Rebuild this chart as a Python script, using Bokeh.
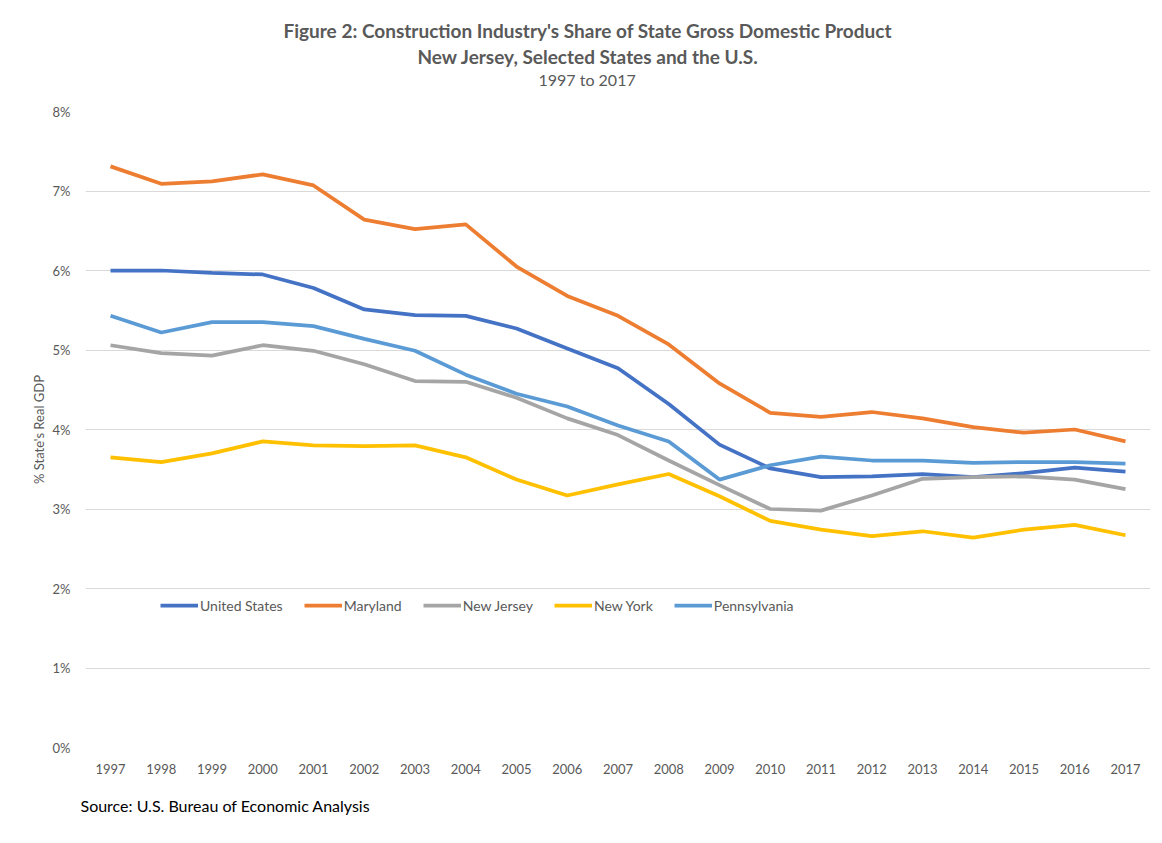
from bokeh.plotting import figure
from bokeh.models import (Range1d, FixedTicker, PrintfTickFormatter, Legend, LegendItem, Title)
from bokeh.embed import file_html
from bokeh.resources import INLINE

years = list(range(1997, 2018))
united_states = [6.00, 6.00, 5.97, 5.95, 5.78, 5.51, 5.44, 5.43, 5.27, 5.02, 4.77, 4.32, 3.81, 3.51, 3.40, 3.41, 3.44, 3.40, 3.45, 3.52, 3.47]
maryland = [7.31, 7.09, 7.12, 7.21, 7.07, 6.64, 6.52, 6.58, 6.05, 5.68, 5.43, 5.07, 4.58, 4.21, 4.16, 4.22, 4.14, 4.03, 3.96, 4.00, 3.85]
new_jersey = [5.06, 4.96, 4.93, 5.06, 4.99, 4.82, 4.61, 4.60, 4.40, 4.14, 3.93, 3.61, 3.30, 3.00, 2.98, 3.17, 3.38, 3.40, 3.41, 3.37, 3.25]
new_york = [3.65, 3.59, 3.70, 3.85, 3.80, 3.79, 3.80, 3.65, 3.37, 3.17, 3.31, 3.44, 3.16, 2.85, 2.74, 2.66, 2.72, 2.64, 2.74, 2.80, 2.67]
pennsylvania = [5.43, 5.22, 5.35, 5.35, 5.30, 5.14, 4.99, 4.69, 4.45, 4.29, 4.05, 3.85, 3.37, 3.55, 3.66, 3.61, 3.61, 3.58, 3.59, 3.59, 3.57]
y_ticks = [0, 1, 2, 3, 4, 5, 6, 7, 8]

series = [
    ("United States", united_states, "#4472C4"),
    ("Maryland", maryland, "#ED7D31"),
    ("New Jersey", new_jersey, "#A5A5A5"),
    ("New York", new_york, "#FFC000"),
    ("Pennsylvania", pennsylvania, "#5B9BD5"),
]

FONT = "Lato"
GREY = "#595959"

p = figure(width=1154, height=835, output_backend="svg", toolbar_location=None,
           x_range=Range1d(1996.507, 2017.493), y_range=Range1d(0, 8),
           min_border_left=85, min_border_right=4, min_border_top=111, min_border_bottom=88)
p.outline_line_color = None
p.xgrid.grid_line_color = None
p.ygrid.grid_line_color = "#D9D9D9"
p.ygrid.grid_line_width = 1

p.xaxis.ticker = FixedTicker(ticks=years)
p.yaxis.ticker = FixedTicker(ticks=y_ticks)
p.yaxis.formatter = PrintfTickFormatter(format="%d%%")
for ax in (p.xaxis[0], p.yaxis[0]):
    ax.axis_line_color = None
    ax.major_tick_line_color = None
    ax.minor_tick_line_color = None
    ax.major_label_text_font = FONT
    ax.major_label_text_font_size = "13px"
    ax.major_label_text_color = GREY
p.xaxis.major_label_standoff = 10
p.yaxis.major_label_standoff = 9
p.yaxis.axis_label = "% State's Real GDP"
p.yaxis.axis_label_text_font = FONT
p.yaxis.axis_label_text_font_size = "13px"
p.yaxis.axis_label_text_font_style = "normal"
p.yaxis.axis_label_text_color = GREY
p.yaxis.axis_label_standoff = 3

items = []
for name, vals, color in series:
    r = p.line(years, vals, line_color=color, line_width=3.75)
    items.append(LegendItem(label=name, renderers=[r]))

legend = Legend(items=items, orientation="horizontal", location=(75, 132),
                glyph_width=38, glyph_height=20, label_standoff=2, spacing=21,
                padding=0, margin=0, label_text_font=FONT, label_text_font_size="14px",
                label_text_color=GREY, background_fill_alpha=0, border_line_color=None)
p.add_layout(legend, "center")

# titles: added closest-to-frame first (first one is an empty spacer)
p.add_layout(Title(text=" ", text_font_size="1px", standoff=20), "above")
p.add_layout(Title(text="1997 to 2017", align="left", offset=453,
                   text_font=FONT, text_font_size="16px", text_font_style="normal",
                   text_color=GREY, standoff=0), "above")
p.add_layout(Title(text="New Jersey, Selected States and the U.S.", align="left", offset=332,
                   text_font=FONT, text_font_size="19px", text_font_style="bold",
                   text_color=GREY, standoff=0), "above")
p.add_layout(Title(text="Figure 2: Construction Industry's Share of State Gross Domestic Product",
                   align="left", offset=198,
                   text_font=FONT, text_font_size="19px", text_font_style="bold",
                   text_color=GREY, standoff=2), "above")
p.add_layout(Title(text="Source: U.S. Bureau of Economic Analysis", align="left", offset=-5,
                   text_font=FONT, text_font_size="16px", text_font_style="normal",
                   text_color="#000000", standoff=35), "below")

open("out.html", "w").write(file_html(p, INLINE))
